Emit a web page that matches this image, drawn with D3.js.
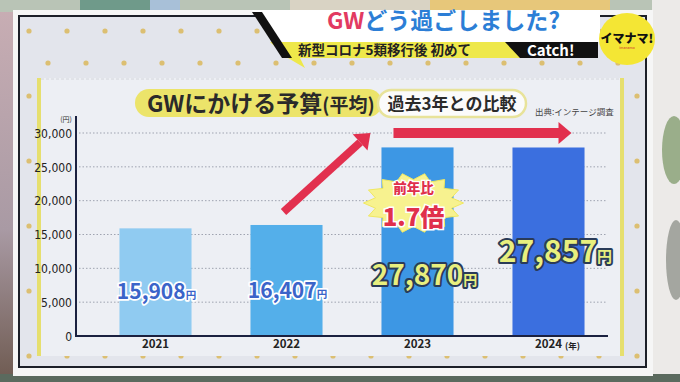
<!DOCTYPE html>
<html>
<head>
<meta charset="utf-8">
<script src="https://cdn.jsdelivr.net/npm/d3@7"></script>
<style>
  html, body { margin: 0; padding: 0; background: #d8d6d4; }
  svg { display: block; }
  text { font-family: "Noto Sans CJK JP", "Noto Sans", sans-serif; }
</style>
</head>
<body>
<div id="chart"></div>
<script>
// data
var years = ['2021', '2022', '2023', '2024'];
var budget = [15908, 16407, 27870, 27857];
var valueLabels = ['15,908', '16,407', '27,870', '27,857'];
var yTicks = [0, 5000, 10000, 15000, 20000, 25000, 30000];

var W = 680, H = 382;

var svg = d3.select('#chart').append('svg')
    .attr('width', W)
    .attr('height', H);

// ---- studio background ----
var defs = svg.append('defs');
var lg = defs.append('linearGradient').attr('id', 'leftbg').attr('x1', 0).attr('y1', 0).attr('x2', 0).attr('y2', 1);
lg.append('stop').attr('offset', '0%').attr('stop-color', '#c9aeb4');
lg.append('stop').attr('offset', '60%').attr('stop-color', '#a99aa4');
lg.append('stop').attr('offset', '100%').attr('stop-color', '#6e5a50');

svg.append('rect').attr('width', W).attr('height', H).attr('fill', '#e2e1df');
svg.append('rect').attr('x', 0).attr('y', 0).attr('width', 16).attr('height', H).attr('fill', 'url(#leftbg)');
// top strip
svg.append('rect').attr('x', 0).attr('y', 0).attr('width', W).attr('height', 12).attr('fill', '#b9c4b6');
svg.append('rect').attr('x', 80).attr('y', 0).attr('width', 70).attr('height', 12).attr('fill', '#6f9a8a');
svg.append('rect').attr('x', 150).attr('y', 0).attr('width', 30).attr('height', 12).attr('fill', '#a8c0d8');
svg.append('rect').attr('x', 290).attr('y', 0).attr('width', 140).attr('height', 12).attr('fill', '#d9d3c4');
svg.append('rect').attr('x', 430).attr('y', 0).attr('width', 180).attr('height', 12).attr('fill', '#e7c77a');
// right wall + plant
svg.append('rect').attr('x', 652).attr('y', 0).attr('width', 28).attr('height', H).attr('fill', '#eceae8');
svg.append('ellipse').attr('cx', 674).attr('cy', 150).attr('rx', 12).attr('ry', 34).attr('fill', '#9aae8a');
svg.append('ellipse').attr('cx', 676).attr('cy', 260).attr('rx', 10).attr('ry', 40).attr('fill', '#a4a6a0');
// bottom strip
svg.append('rect').attr('x', 0).attr('y', 374).attr('width', W).attr('height', 8).attr('fill', '#5b6a5e');

// ---- board ----
svg.append('rect').attr('x', 13).attr('y', 10).attr('width', 640).attr('height', 366).attr('fill', '#f6f6f6');
svg.append('rect').attr('x', 19).attr('y', 16).attr('width', 627).attr('height', 351)
    .attr('fill', '#e3e5ec').attr('stroke', '#1c1f28').attr('stroke-width', 2);

// dot lattice decoration
var dots = [];
d3.range(0, 17).forEach(function (i) {
    d3.range(0, 6).forEach(function (j) {
        dots.push([29 + 38 * i, 31 + 65 * j]);
        dots.push([48 + 38 * i, 63 + 65 * j]);
    });
});
svg.append('g').selectAll('circle')
    .data(dots.filter(function (d) { return d[0] < 640 && d[1] < 362; }))
    .enter().append('circle')
    .attr('cx', function (d) { return d[0]; })
    .attr('cy', function (d) { return d[1]; })
    .attr('r', 2.6)
    .attr('fill', '#dcbf72');

// inner panel
svg.append('rect').attr('x', 37).attr('y', 78).attr('width', 587).attr('height', 278).attr('fill', '#edeff4');
svg.append('rect').attr('x', 37).attr('y', 78).attr('width', 4).attr('height', 278).attr('fill', '#e6df6e');
svg.append('rect').attr('x', 620).attr('y', 78).attr('width', 4).attr('height', 278).attr('fill', '#e6df6e');
svg.append('line').attr('x1', 41).attr('x2', 620).attr('y1', 79).attr('y2', 79)
    .attr('stroke', '#d4d6dc').attr('stroke-dasharray', '3,2');

// ---- top banner ----
var banner = svg.append('g');
banner.append('polygon').attr('points', '252,10 600,10 600,42 280,42').attr('fill', '#ffffff');
banner.append('polygon').attr('points', '270,42 520,42 520,58 300,58 305,68 288,58').attr('fill', '#eee84a');
banner.append('polygon').attr('points', '505,42 598,42 598,58 520,58').attr('fill', '#111111');
banner.append('polygon').attr('points', '252,12 262,12 292,58 282,58').attr('fill', '#111111');
var t1 = banner.append('text').attr('x', 327).attr('y', 29)
    .style('font-size', '23px').style('font-weight', 700);
t1.append('tspan').attr('fill', '#e23a62').text('GW');
t1.append('tspan').attr('fill', '#2c7ed6').text('どう過ごしました?');
banner.append('text').attr('x', 298).attr('y', 55)
    .style('font-size', '13.5px').style('font-weight', 700).attr('fill', '#222')
    .text('新型コロナ5類移行後 初めて');
banner.append('text').attr('x', 527).attr('y', 56)
    .style('font-size', '15px').style('font-weight', 700).attr('fill', '#fff')
    .text('Catch!');
banner.append('ellipse').attr('cx', 627).attr('cy', 39).attr('rx', 28).attr('ry', 26).attr('fill', '#f4e634');
banner.append('text').attr('x', 627).attr('y', 43).attr('text-anchor', 'middle')
    .style('font-size', '12px').style('font-weight', 900).attr('fill', '#111')
    .text('イマナマ!');
banner.append('text').attr('x', 627).attr('y', 49).attr('text-anchor', 'middle')
    .style('font-size', '3.5px').attr('fill', '#d03030').text('imanama');

// ---- panel titles ----
svg.append('rect').attr('x', 135).attr('y', 89).attr('width', 247).attr('height', 28).attr('rx', 14)
    .attr('fill', '#ece46a');
var tt = svg.append('text').attr('x', 147).attr('y', 112)
    .style('font-size', '23px').style('font-weight', 700).attr('fill', '#2a2a2a');
tt.append('tspan').text('GWにかける予算');
tt.append('tspan').style('font-size', '19px').text('(平均)');
svg.append('rect').attr('x', 378).attr('y', 90).attr('width', 148).attr('height', 27).attr('rx', 13.5)
    .attr('fill', '#fbfbfb').attr('stroke', '#e8e39a').attr('stroke-width', 2.5);
svg.append('text').attr('x', 452).attr('y', 110).attr('text-anchor', 'middle')
    .style('font-size', '17px').style('font-weight', 700).attr('fill', '#2a2a2a')
    .text('過去3年との比較');
svg.append('text').attr('x', 535).attr('y', 115)
    .style('font-size', '8.5px').attr('fill', '#444').text('出典:インテージ調査');

// ---- chart ----
var x = d3.scaleBand()
    .domain(years)
    .range([90, 614])
    .paddingInner(0.45)
    .paddingOuter(0.225);

var y = d3.scaleLinear()
    .domain([0, 30000])
    .range([336, 133]);

var g = svg.append('g');

// dotted grid
g.selectAll('.grid')
    .data(yTicks.filter(function (d) { return d > 0; }))
    .enter().append('line')
    .attr('class', 'grid')
    .attr('x1', 79).attr('x2', 606)
    .attr('y1', function (d) { return y(d); })
    .attr('y2', function (d) { return y(d); })
    .attr('stroke', '#9fa3b0')
    .attr('stroke-width', 1)
    .attr('stroke-dasharray', '1.5,2');

var barColors = ['#90cbf1', '#54afea', '#3d97e4', '#3b6fdf'];
g.selectAll('.bar')
    .data(budget)
    .enter().append('rect')
    .attr('class', 'bar')
    .attr('x', function (d, i) { return x(years[i]); })
    .attr('width', x.bandwidth())
    .attr('y', function (d) { return y(d); })
    .attr('height', function (d) { return y(0) - y(d); })
    .attr('fill', function (d, i) { return barColors[i]; });

// y axis
var yAxis = g.append('g')
    .attr('transform', 'translate(76,0)')
    .call(d3.axisLeft(y).tickValues(yTicks).tickFormat(d3.format(',')).tickSize(0).tickPadding(4));
yAxis.select('.domain').remove();
yAxis.selectAll('text')
    .style('font-family', '"Liberation Sans Narrow", "DejaVu Sans Condensed", sans-serif')
    .style('font-size', '12px')
    .attr('fill', '#222')
    .attr('dy', '0.35em');
g.append('text').attr('x', 66).attr('y', 122).attr('text-anchor', 'middle')
    .style('font-size', '7px').attr('fill', '#333').text('(円)');

g.append('line').attr('x1', 76).attr('x2', 76).attr('y1', 116).attr('y2', y(0) + 1)
    .attr('stroke', '#1b2140').attr('stroke-width', 2);

// x axis
var xAxis = g.append('g')
    .attr('transform', 'translate(0,' + y(0) + ')')
    .call(d3.axisBottom(x).tickSize(0).tickPadding(4));
xAxis.select('.domain').attr('d', 'M75,0H608').attr('stroke', '#1b2140').attr('stroke-width', 2.2);
xAxis.selectAll('text')
    .style('font-size', '11.5px').style('font-weight', 700)
    .attr('fill', '#222');
g.append('text')
    .attr('x', x('2024') + x.bandwidth() / 2 + 24).attr('y', y(0) + 12.5)
    .attr('text-anchor', 'middle')
    .style('font-size', '8.5px').style('font-weight', 700).attr('fill', '#222')
    .text('(年)');

// ---- annotation arrows ----
var arrowColor = '#e2304e';
var ax0 = x('2022') + x.bandwidth() / 2 - 3, ay0 = y(budget[1]) - 13;
var ax1 = x('2023') - 11, ay1 = y(30000);
var ang = Math.atan2(ay1 - ay0, ax1 - ax0);
var headLen = 14, headW = 11;
var bx = ax1 - headLen * Math.cos(ang), by = ay1 - headLen * Math.sin(ang);
g.append('line').attr('x1', ax0).attr('y1', ay0).attr('x2', bx).attr('y2', by)
    .attr('stroke', arrowColor).attr('stroke-width', 8);
g.append('polygon')
    .attr('points', [
        [ax1, ay1],
        [bx + headW * Math.sin(ang), by - headW * Math.cos(ang)],
        [bx - headW * Math.sin(ang), by + headW * Math.cos(ang)]
    ].map(function (p) { return p.join(','); }).join(' '))
    .attr('fill', arrowColor);

var hx0 = x('2023') + 12, hx1 = x('2024') + x.bandwidth() / 2 + 23, hy = y(30000);
g.append('rect').attr('x', hx0).attr('y', hy - 5).attr('width', hx1 - 12 - hx0).attr('height', 10)
    .attr('fill', arrowColor);
g.append('polygon')
    .attr('points', (hx1 - 13) + ',' + (hy - 11) + ' ' + hx1 + ',' + hy + ' ' + (hx1 - 13) + ',' + (hy + 11))
    .attr('fill', arrowColor);

// ---- value labels ----
var labelFrac = [0.34, 0.34, 0.27, 0.39];
var labelSize = [21, 21, 28, 30];
var lbl = g.selectAll('.vlabel')
    .data(budget)
    .enter().append('text')
    .attr('class', 'vlabel')
    .attr('x', function (d, i) { return x(years[i]) + x.bandwidth() / 2 + (i > 1 ? 7 : 1); })
    .attr('y', function (d, i) { return y(d * labelFrac[i]); })
    .attr('text-anchor', 'middle')
    .style('font-weight', 700)
    .style('font-size', function (d, i) { return labelSize[i] + 'px'; })
    .style('paint-order', 'stroke')
    .attr('stroke-linejoin', 'round')
    .attr('fill', function (d, i) { return i > 1 ? '#e8ef7e' : '#3b64c9'; })
    .attr('stroke', function (d, i) { return i > 1 ? '#2a3b58' : '#ffffff'; })
    .attr('stroke-width', function (d, i) { return i > 1 ? 4 : 3.5; });
lbl.append('tspan').text(function (d, i) { return valueLabels[i]; });
lbl.append('tspan').style('font-size', function (d, i) { return (labelSize[i] * 0.5) + 'px'; }).text('円');

// ---- starburst ----
var bcx = x('2023') + x.bandwidth() / 2 - 4, bcy = 203;
var nSpikes = 14;
var burstPts = d3.range(nSpikes * 2).map(function (k) {
    var a = k * Math.PI / nSpikes;
    var r = (k % 2 === 0) ? 1 : 0.78;
    return [bcx + Math.cos(a) * 50 * r, bcy + Math.sin(a) * 30 * r];
});
g.append('polygon')
    .attr('points', burstPts.map(function (p) { return p.join(','); }).join(' '))
    .attr('fill', '#f7f28f')
    .attr('stroke', '#f0e860').attr('stroke-width', 1);
g.append('text').attr('x', bcx).attr('y', 193).attr('text-anchor', 'middle')
    .style('font-size', '13.5px').style('font-weight', 900)
    .style('paint-order', 'stroke').attr('stroke', '#fff').attr('stroke-width', 2.5)
    .attr('fill', '#e0304c').text('前年比');
g.append('text').attr('x', bcx).attr('y', 226).attr('text-anchor', 'middle')
    .style('font-size', '24px').style('font-weight', 900)
    .style('paint-order', 'stroke').attr('stroke', '#fff').attr('stroke-width', 3)
    .attr('fill', '#e0304c').text('1.7倍');
</script>
</body>
</html>
